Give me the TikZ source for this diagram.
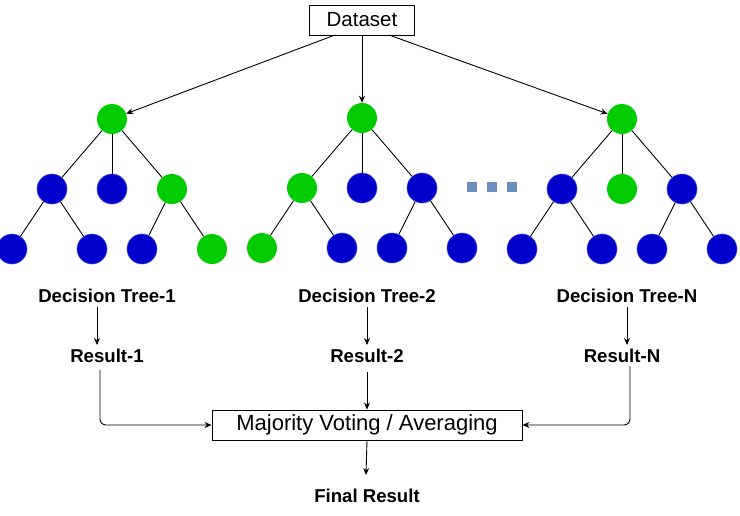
\documentclass[tikz,border=0pt]{standalone}
\usepackage{fontspec}
\setmainfont{Liberation Sans}
\usetikzlibrary{arrows.meta}
\definecolor{tgreen}{HTML}{00CC00}
\definecolor{tblue}{HTML}{0000CC}
\definecolor{tdots}{HTML}{6C8EBF}
\begin{document}
\begin{tikzpicture}[x=1pt,y=-1pt,
  g/.style={circle,fill=tgreen,minimum size=30pt,inner sep=0pt},
  b/.style={circle,fill=tblue,draw=tblue!70!white,line width=0.6pt,minimum size=30pt,inner sep=0pt},
  e/.style={line width=0.9pt},
  ar/.style={line width=0.9pt,-{Stealth[length=7pt,width=6pt]}},
  lab/.style={font=\fontsize{18.6}{22}\selectfont\bfseries,inner sep=0pt},
  box/.style={draw,line width=0.9pt,inner sep=0pt},
  sq/.style={fill=tdots,minimum size=10pt,inner sep=0pt}]
\useasboundingbox (0,0) rectangle (740,515);
\node[box,font=\fontsize{20.5}{24}\selectfont,minimum width=105pt,minimum height=30pt] (ds) at (362,20) {Dataset};
% tree 1
\node[g] (a) at (112,119) {};
\node[b] (a1) at (52,189) {};
\node[b] (a2) at (112,189) {};
\node[g] (a3) at (172,189) {};
\node[b] (a11) at (12,249) {};
\node[b] (a12) at (92,249) {};
\node[b] (a31) at (142,249) {};
\node[g] (a32) at (212,249) {};
% tree 2
\node[g] (c) at (362,118) {};
\node[g] (c1) at (302,188) {};
\node[b] (c2) at (362,188) {};
\node[b] (c3) at (422,188) {};
\node[g] (c11) at (262,248) {};
\node[b] (c12) at (342,248) {};
\node[b] (c31) at (392,248) {};
\node[b] (c32) at (462,248) {};
% tree N
\node[g] (n) at (622,119) {};
\node[b] (n1) at (562,189) {};
\node[g] (n2) at (622,189) {};
\node[b] (n3) at (682,189) {};
\node[b] (n11) at (522,249) {};
\node[b] (n12) at (602,249) {};
\node[b] (n31) at (652,249) {};
\node[b] (n32) at (722,249) {};
\foreach \t in {a,c,n}{
  \draw[e] (\t) -- (\t1); \draw[e] (\t) -- (\t2); \draw[e] (\t) -- (\t3);
  \draw[e] (\t1) -- (\t11); \draw[e] (\t1) -- (\t12);
  \draw[e] (\t3) -- (\t31); \draw[e] (\t3) -- (\t32);
}
\node[sq] (d1) at (472,187) {};
\node[sq] (d2) at (492,187) {};
\node[sq] (d3) at (512,187) {};
% dataset arrows
\coordinate (s1) at (335,35);
\coordinate (s3) at (389,35);
\draw[ar] (s1) -- (a);
\draw[ar] (ds) -- (c);
\draw[ar] (s3) -- (n);
% labels
\node[lab] (t1) at (107,296) {Decision Tree-1};
\node[lab] (t2) at (367,296) {Decision Tree-2};
\node[lab] (tn) at (627,296) {Decision Tree-N};
\node[lab] (r1) at (107,356) {Result-1};
\node[lab] (r2) at (367,356) {Result-2};
\node[lab] (rn) at (622,356) {Result-N};
\coordinate (t1s) at (97,307); \coordinate (r1n) at (97,345);
\coordinate (t2s) at (367,307); \coordinate (r2n) at (367,345);
\coordinate (tns) at (627,307); \coordinate (rnn) at (627,345);
\draw[ar] (t1s) -- (r1n);
\draw[ar] (t2s) -- (r2n);
\draw[ar] (tns) -- (rnn);
\node[box,font=\fontsize{22}{26}\selectfont,minimum width=310pt,minimum height=30pt] (mv) at (367,425) {Majority Voting / Averaging};
\coordinate (r1s) at (100,370);
\coordinate (rns) at (630,366);
\draw[ar,rounded corners=6pt] (r1s) -- (r1s |- mv.west) -- (mv.west);
\draw[ar,rounded corners=6pt] (rns) -- (rns |- mv.east) -- (mv.east);
\draw[ar] (r2.south |- 0,372) -- (mv.north);
\node[lab] (fr) at (367,496) {Final Result};
\coordinate (frn) at (366,475);
\draw[ar] (mv.south) -- (frn);
\end{tikzpicture}
\end{document}
